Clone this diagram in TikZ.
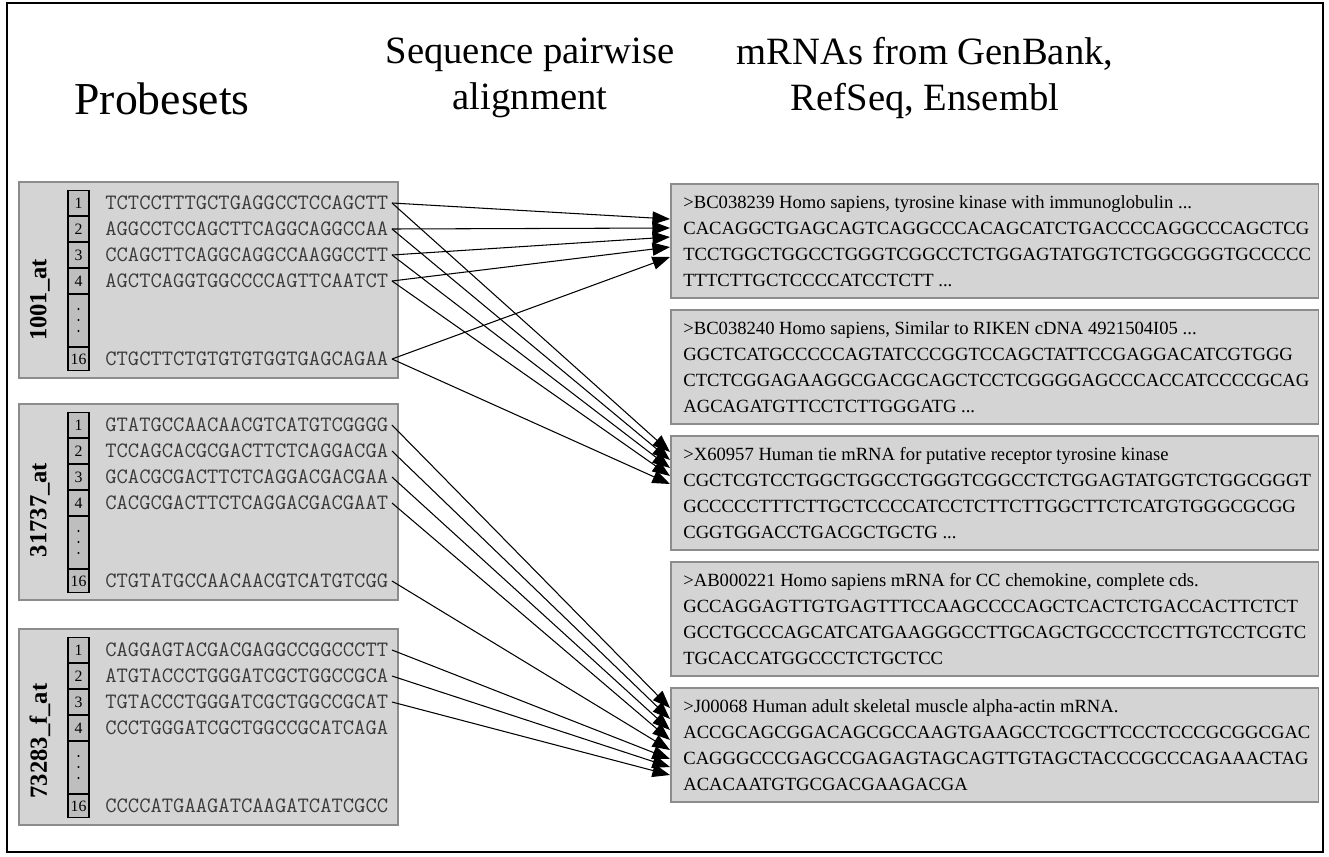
\documentclass[tikz,border=0pt]{standalone}
\usepackage{fontspec}
\setmainfont{Liberation Serif}
\usetikzlibrary{calc, arrows.meta, positioning}

\begin{document}
\begin{tikzpicture}[x=0.02cm, y=-0.02cm,
    header/.style={font=\fontsize{22}{26}\selectfont, align=center},
    probebox/.style={draw=borderGrey, fill=boxGrey, line width=0.9pt, anchor=north west,
        minimum width=7.58cm, minimum height=3.92cm, inner sep=0pt},
    setlabel/.style={rotate=90, font=\bfseries\fontsize{14}{16}\selectfont},
    idxcell/.style={draw=black, fill=cellGrey, line width=0.6pt, minimum width=0.42cm,
        minimum height=0.5cm, inner sep=0pt, font=\fontsize{9}{10}\selectfont},
    seqtext/.style={anchor=west, font=\ttfamily\fontsize{12.5}{14}\selectfont, text=seqGrey, inner sep=2pt},
    mrnabox/.style={draw=borderGrey, fill=boxGrey, line width=0.9pt, anchor=north west,
        minimum width=12.96cm, minimum height=2.28cm, inner sep=0pt},
    mrnatext/.style={anchor=west, align=left, font=\fontsize{10.6}{14.8}\selectfont, inner sep=0pt},
    alignarrow/.style={-{Triangle[length=10pt, width=7.5pt]}, line width=0.6pt}]

    \definecolor{boxGrey}{HTML}{D4D4D4}
    \definecolor{cellGrey}{HTML}{BEBEBE}
    \definecolor{borderGrey}{HTML}{8C8C8C}
    \definecolor{seqGrey}{HTML}{3A3A3A}

    % Page frame
    \useasboundingbox (0,0) rectangle (1329,856);
    \draw[line width=1.2pt] (7,3) rectangle (1323,852);

    % Column headers
    \node[header, font=\fontsize{26}{30}\selectfont] (hdrProbes) at (162,99) {Probesets};
    \node[header] (hdrAlign) at (530,78) {Sequence pairwise\\alignment};
    \node[header] (hdrMrna) at (925,78) {mRNAs from GenBank,\\RefSeq, Ensembl};

    % Draw probeset boxes with index column
    \foreach \p/\top/\ly/\name in {1/181/119/1001\_at, 2/403/107/31737\_at, 3/628/113/73283\_f\_at} {
        \node[probebox] (ps\p) at (18,\top) {};
        \node[setlabel] (lab\p) at (40,{\top+\ly}) {\name};
        \foreach \k in {1,...,4}
            \node[idxcell] (c\p-\k) at (78.5,{\top+22+26*(\k-1)}) {\k};
        \node[idxcell, minimum height=1.03cm] (c\p-dots) at (78.5,{\top+139.5}) {};
        \foreach \dy in {128,139,150}
            \fill (78.5,{\top+\dy}) circle (0.7pt);
        \node[idxcell, minimum height=0.46cm] (c\p-16) at (78.5,{\top+178}) {16};
    }

    % Probe sequences
    \foreach \k/\seq [count=\i] in {1/TCTCCTTTGCTGAGGCCTCCAGCTT, 2/AGGCCTCCAGCTTCAGGCAGGCCAA,
            3/CCAGCTTCAGGCAGGCCAAGGCCTT, 4/AGCTCAGGTGGCCCCAGTTCAATCT}
        \node[seqtext] (s1-\k) at (101.5,{181+22+26*(\i-1)}) {\seq};
    \node[seqtext] (s1-16) at (101.5,{181+178}) {CTGCTTCTGTGTGTGGTGAGCAGAA};

    \foreach \k/\seq [count=\i] in {1/GTATGCCAACAACGTCATGTCGGGG, 2/TCCAGCACGCGACTTCTCAGGACGA,
            3/GCACGCGACTTCTCAGGACGACGAA, 4/CACGCGACTTCTCAGGACGACGAAT}
        \node[seqtext] (s2-\k) at (101.5,{403+22+26*(\i-1)}) {\seq};
    \node[seqtext] (s2-16) at (101.5,{403+178}) {CTGTATGCCAACAACGTCATGTCGG};

    \foreach \k/\seq [count=\i] in {1/CAGGAGTACGACGAGGCCGGCCCTT, 2/ATGTACCCTGGGATCGCTGGCCGCA,
            3/TGTACCCTGGGATCGCTGGCCGCAT, 4/CCCTGGGATCGCTGGCCGCATCAGA}
        \node[seqtext] (s3-\k) at (101.5,{628+22+26*(\i-1)}) {\seq};
    \node[seqtext] (s3-16) at (101.5,{628+178}) {CCCCATGAAGATCAAGATCATCGCC};

    % mRNA boxes
    \foreach \m/\top in {1/183, 2/309, 3/435, 4/561, 5/687}
        \node[mrnabox] (mr\m) at (670,\top) {};

    \node[mrnatext] (mt1) at ($(mr1.west)+(13,0)$) {>BC038239 Homo sapiens, tyrosine kinase with immunoglobulin ...\\
        CACAGGCTGAGCAGTCAGGCCCACAGCATCTGACCCCAGGCCCAGCTCG\\
        TCCTGGCTGGCCTGGGTCGGCCTCTGGAGTATGGTCTGGCGGGTGCCCCC\\
        TTTCTTGCTCCCCATCCTCTT ...};
    \node[mrnatext] (mt2) at ($(mr2.west)+(13,0)$) {>BC038240 Homo sapiens, Similar to RIKEN cDNA 4921504I05 ...\\
        GGCTCATGCCCCCAGTATCCCGGTCCAGCTATTCCGAGGACATCGTGGG\\
        CTCTCGGAGAAGGCGACGCAGCTCCTCGGGGAGCCCACCATCCCCGCAG\\
        AGCAGATGTTCCTCTTGGGATG ...};
    \node[mrnatext] (mt3) at ($(mr3.west)+(13,0)$) {>X60957 Human tie mRNA for putative receptor tyrosine kinase\\
        CGCTCGTCCTGGCTGGCCTGGGTCGGCCTCTGGAGTATGGTCTGGCGGGT\\
        GCCCCCTTTCTTGCTCCCCATCCTCTTCTTGGCTTCTCATGTGGGCGCGG\\
        CGGTGGACCTGACGCTGCTG ...};
    \node[mrnatext] (mt4) at ($(mr4.west)+(13,0)$) {>AB000221 Homo sapiens mRNA for CC chemokine, complete cds.\\
        GCCAGGAGTTGTGAGTTTCCAAGCCCCAGCTCACTCTGACCACTTCTCT\\
        GCCTGCCCAGCATCATGAAGGGCCTTGCAGCTGCCCTCCTTGTCCTCGTC\\
        TGCACCATGGCCCTCTGCTCC};
    \node[mrnatext] (mt5) at ($(mr5.west)+(13,0)$) {>J00068 Human adult skeletal muscle alpha-actin mRNA.\\
        ACCGCAGCGGACAGCGCCAAGTGAAGCCTCGCTTCCCTCCCGCGGCGAC\\
        CAGGGCCCGAGCCGAGAGTAGCAGTTGTAGCTACCCGCCCAGAAACTAG\\
        ACACAATGTGCGACGAAGACGA};

    % Alignments of 1001_at
    \foreach \k/\da/\db in {1/36/17, 2/45/25, 3/54/33, 4/64/41, 16/74/49} {
        \coordinate (mr1-\k) at ($(mr1.north west)+(0,\da)$);
        \coordinate (mr3-\k) at ($(mr3.north west)+(0,\db)$);
        \draw[alignarrow] (s1-\k.east) -- (mr1-\k);
        \draw[alignarrow] (s1-\k.east) -- (mr3-\k);
    }

    % Alignments of 31737_at and 73283_f_at
    \foreach \p/\k/\d in {2/1/21, 2/2/32, 2/3/43, 2/4/53, 2/16/63, 3/1/72, 3/2/80, 3/3/88} {
        \coordinate (mr5-\p-\k) at ($(mr5.north west)+(0,\d)$);
        \draw[alignarrow] (s\p-\k.east) -- (mr5-\p-\k);
    }

\end{tikzpicture}
\end{document}
